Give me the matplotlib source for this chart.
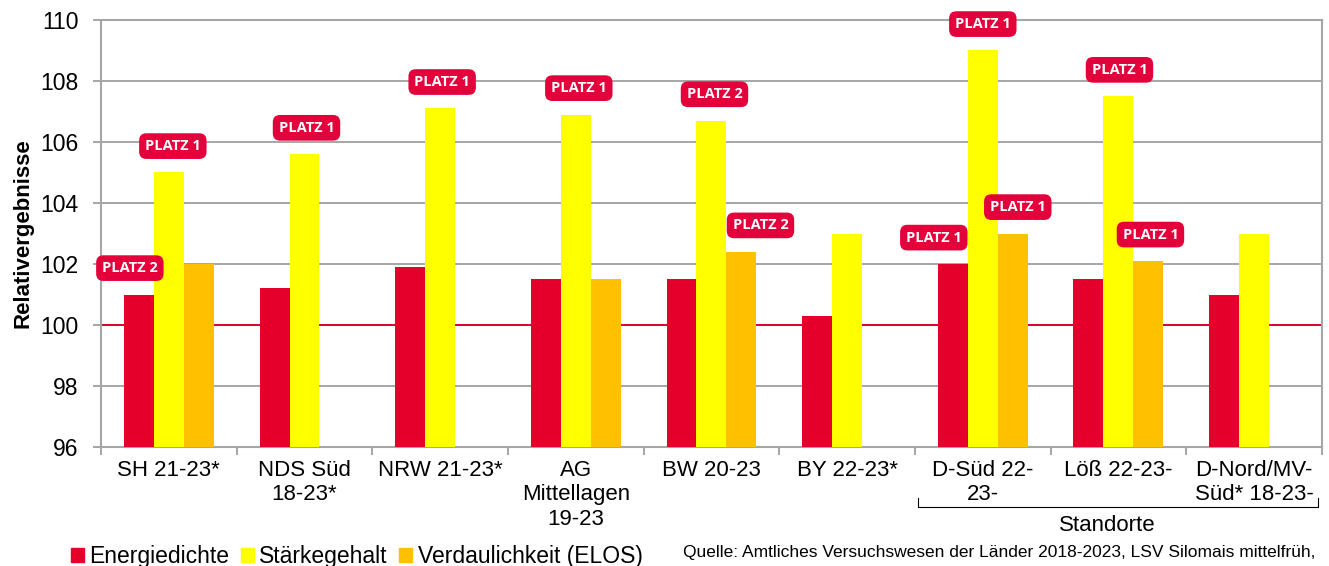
import numpy as np
import matplotlib.pyplot as plt
from matplotlib.patches import Patch

plt.rcParams['font.family'] = ['Liberation Sans', 'DejaVu Sans']

# Data
categories = ["SH 21-23*", "NDS Süd\n18-23*", "NRW 21-23*", "AG\nMittellagen\n19-23",
              "BW 20-23", "BY 22-23*", "D-Süd 22-\n23-", "Löß 22-23-", "D-Nord/MV-\nSüd* 18-23-"]
energie = [101.0, 101.2, 101.9, 101.5, 101.5, 100.3, 102.0, 101.5, 101.0]
staerke = [105.0, 105.6, 107.1, 106.9, 106.7, 103.0, 109.0, 107.5, 103.0]
elos = [102.0, np.nan, np.nan, 101.5, 102.4, np.nan, 103.0, 102.1, np.nan]
series_names = ["Energiedichte", "Stärkegehalt", "Verdaulichkeit (ELOS)"]

# ranking badges: (category index, series index, text)
badges = [(0, 0, "PLATZ 2"), (0, 1, "PLATZ 1"), (1, 1, "PLATZ 1"), (2, 1, "PLATZ 1"),
          (3, 1, "PLATZ 1"), (4, 1, "PLATZ 2"), (4, 2, "PLATZ 2"), (6, 0, "PLATZ 1"),
          (6, 1, "PLATZ 1"), (6, 2, "PLATZ 1"), (7, 1, "PLATZ 1"), (7, 2, "PLATZ 1")]
# horizontal nudges of the badges in pixels
badge_dx = [-9, 4, 2, 2, 3, 3, 19, -19, 0, 5, 1, 2]

colors = ["#E4002B", "#FFFF00", "#FFC000"]
grey = "#A6A6A6"

fig = plt.figure(figsize=(13.29, 5.66), dpi=100)
ax = fig.add_axes([0.076, 0.2102, 0.9187, 0.7545])

x = np.arange(len(categories))
w = 0.221
all_series = [energie, staerke, elos]
for k, vals in enumerate(all_series):
    ax.bar(x + (k - 1) * w, np.array(vals) - 96, w, bottom=96, color=colors[k], zorder=3)

ax.set_ylim(96, 110)
ax.set_xlim(-0.5, len(categories) - 0.5)
ax.set_yticks(np.arange(96, 111, 2))
ax.yaxis.grid(True, color=grey, linewidth=1.4, zorder=0)
ax.axhline(100, color="#E4002B", linewidth=1.4, zorder=2)

ax.set_xticks(np.arange(-0.5, len(categories)), [])
ax.set_xticks(x, categories, minor=True)
ax.tick_params(axis="x", which="major", length=6, width=1.4, color=grey)
ax.tick_params(axis="x", which="minor", length=0, pad=9, labelsize=16)
ax.tick_params(axis="y", length=6, width=1.4, color=grey, labelsize=16.5, pad=10)
for lab in ax.get_xticklabels(minor=True):
    lab.set_linespacing(1.22)
for sp in ax.spines.values():
    sp.set_color(grey)
    sp.set_linewidth(1.5)

ax.set_ylabel("Relativergebnisse", fontsize=16, fontweight="bold", labelpad=5)

for (ci, si, txt), dx in zip(badges, badge_dx):
    ax.annotate(txt, (x[ci] + (si - 1) * w, all_series[si][ci]),
                xytext=(dx * 0.72, 19), textcoords="offset points",
                ha="center", va="center", color="white", fontsize=10.5,
                fontweight="bold", family=["Open Sans", "DejaVu Sans"], zorder=5,
                bbox=dict(boxstyle="round,pad=0.4,rounding_size=0.5",
                          fc="#E4003A", ec="none"))

# Standorte bracket
tr = ax.get_xaxis_transform()
ax.plot([5.52, 5.52, 8.47, 8.47], [-0.119, -0.1405, -0.1405, -0.119],
        color="black", linewidth=0.8, transform=tr, clip_on=False)
ax.text(6.92, -0.183, "Standorte", transform=tr, ha="center", va="center", fontsize=16)

handles = [Patch(color=c) for c in colors]
fig.legend(handles, series_names, loc="center left", bbox_to_anchor=(0.045, 0.016),
           ncol=3, frameon=False, fontsize=16.5, handlelength=0.55, handleheight=0.55,
           handletextpad=0.25, columnspacing=0.5, borderpad=0)
fig.text(0.514, 0.023, "Quelle: Amtliches Versuchswesen der Länder 2018-2023, LSV Silomais mittelfrüh,",
         ha="left", va="center", fontsize=12.5)

fig.savefig("out.png", dpi=100)
